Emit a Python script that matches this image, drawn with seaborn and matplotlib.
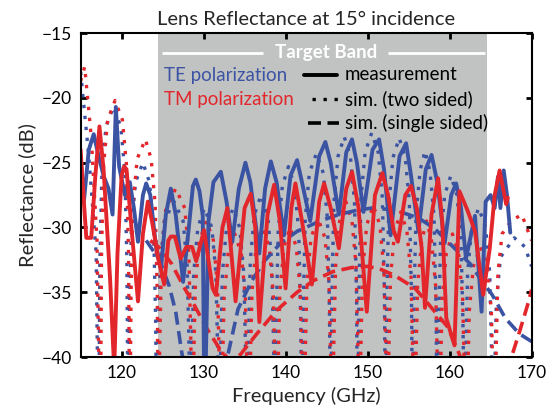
import matplotlib
matplotlib.use("Agg")
import matplotlib.pyplot as plt
import seaborn as sns

# --- values (frequency in GHz, reflectance in dB) ---

# TE measurement (blue solid)
te_meas_f = [115.0, 115.4, 116.0, 116.6, 117.2, 117.8, 118.4, 118.9, 119.3, 119.7,
             120.4, 121.0, 121.5, 122.0, 122.6, 123.0, 123.5, 124.2, 124.8, 125.4,
             126.0, 126.6, 127.5, 128.2, 128.7, 129.05, 129.5, 129.9, 130.05, 130.25,
             130.6, 131.2, 132.1, 132.8, 133.5, 134.3, 135.1, 135.7, 136.8, 137.5,
             138.2, 138.9, 139.8, 140.6, 141.4, 142.0, 143.0, 144.1, 144.85, 145.5,
             146.5, 147.4, 148.1, 148.7, 149.5, 150.6, 151.4, 152.0, 152.8, 153.9,
             154.7, 155.3, 156.2, 157.1, 157.8, 158.5, 159.4, 160.2, 160.8, 161.4,
             162.0, 163.1, 163.9, 164.4, 165.0, 165.5, 165.9, 166.2, 166.6, 167.0,
             167.4]
te_meas_db = [-24.5, -28.0, -24.0, -22.8, -24.5, -26.0, -27.0, -29.0, -20.7, -25.3,
              -27.5, -26.5, -28.5, -31.1, -27.5, -26.6, -27.5, -31.5, -33.2, -29.0,
              -27.0, -29.0, -34.2, -30.0, -26.8, -26.3, -27.2, -29.1, -41.0, -41.0,
              -29.5, -26.5, -25.7, -28.0, -31.1, -27.0, -25.0, -26.5, -32.0, -27.0,
              -24.9, -26.5, -30.6, -26.0, -24.8, -26.5, -29.5, -24.5, -23.4, -25.0,
              -29.0, -24.2, -23.2, -25.0, -28.8, -24.0, -23.2, -25.5, -30.6, -24.5,
              -23.5, -26.0, -30.3, -25.5, -24.4, -26.5, -31.2, -27.5, -26.6, -28.5,
              -32.4, -29.1, -36.5, -28.0, -27.5, -28.5, -26.1, -28.5, -25.6, -27.5,
              -30.4]

# TM measurement (red solid)
tm_meas_f = [115.0, 115.4, 115.7, 116.3, 116.8, 117.3, 117.8, 118.6, 119.1, 119.5,
             120.0, 120.3, 120.6, 121.2, 122.0, 122.6, 123.2, 123.7, 124.5, 125.2,
             125.7, 126.0, 126.5, 127.2, 127.9, 128.6, 129.1, 130.06, 131.1, 131.5,
             132.3, 132.9, 133.9, 135.0, 135.75, 136.3, 136.8, 137.8, 138.6, 139.3,
             140.0, 140.7, 141.2, 142.0, 143.2, 144.1, 144.7, 145.5, 146.5, 147.4,
             148.1, 148.9, 149.9, 150.9, 151.8, 152.5, 153.2, 153.7, 154.6, 155.3,
             156.0, 156.6, 157.0, 157.8, 158.6, 159.1, 159.6, 160.6, 161.2, 162.2,
             163.1, 164.1, 164.9, 165.5, 166.1, 166.9, 167.1]
tm_meas_db = [-24.0, -28.0, -30.8, -30.8, -26.0, -22.2, -25.5, -34.0, -41.0, -32.0,
              -26.0, -25.3, -25.5, -30.0, -35.7, -30.5, -28.0, -29.5, -32.5, -34.4,
              -31.0, -30.7, -30.7, -32.4, -31.5, -31.5, -32.6, -30.2, -34.7, -35.2,
              -30.0, -28.5, -35.7, -28.5, -27.4, -30.0, -37.3, -29.0, -26.7, -29.5,
              -34.7, -28.5, -26.6, -29.5, -34.4, -28.0, -26.6, -28.5, -31.6, -27.0,
              -25.7, -28.5, -36.5, -27.5, -25.8, -27.5, -30.3, -31.1, -27.5, -26.8,
              -28.5, -31.6, -36.2, -29.0, -26.2, -29.5, -37.0, -39.1, -27.2, -28.7,
              -30.3, -35.2, -31.6, -27.5, -25.6, -28.2, -27.7]

# TE simulation, two sided (blue dotted)
te_two_f = [115.0, 116.0, 116.9, 117.2,
            117.35, 117.6, 118.1, 119.0, 119.9, 120.4, 120.65, 120.8,
            120.95, 121.2, 121.7, 122.6, 123.4, 123.9, 124.15, 124.3,
            124.45, 124.7, 125.2, 126.4, 127.5, 128.0, 128.25, 128.4,
            128.55, 128.8, 129.3, 130.1, 131.0, 131.5, 131.75, 131.9,
            132.05, 132.3, 132.8, 133.6, 134.4, 134.9, 135.15, 135.3,
            135.45, 135.7, 136.2, 137.0, 137.8, 138.3, 138.55, 138.7,
            138.85, 139.1, 139.6, 140.35, 141.1, 141.6, 141.85, 142.0,
            142.15, 142.4, 142.9, 143.75, 144.6, 145.1, 145.35, 145.5,
            145.65, 145.9, 146.4, 147.15, 147.9, 148.4, 148.65, 148.8,
            148.95, 149.2, 149.7, 150.5, 151.3, 151.8, 152.05, 152.2,
            152.35, 152.6, 153.1, 153.85, 154.6, 155.1, 155.35, 155.5,
            155.65, 155.9, 156.4, 157.0, 157.6, 158.1, 158.35, 158.5,
            158.65, 158.9, 159.4, 160.15, 160.9, 161.4, 161.65, 161.8,
            161.95, 162.2, 162.7, 163.55, 164.4, 164.9, 165.15, 165.3,
            165.45, 165.7, 166.2, 167.9, 169.2, 170.0]
te_two_db = [-18.0, -24.5, -32.0, -48.0,
             -32.7, -25.7, -22.2, -20.7, -22.2, -25.7, -32.7, -48.0,
             -37.0, -30.0, -26.5, -25.0, -26.5, -30.0, -37.0, -48.0,
             -40.0, -33.0, -29.5, -28.0, -29.5, -33.0, -40.0, -48.0,
             -40.5, -33.5, -30.0, -28.5, -30.0, -33.5, -40.5, -48.0,
             -40.5, -33.5, -30.0, -28.5, -30.0, -33.5, -40.5, -48.0,
             -39.5, -32.5, -29.0, -27.5, -29.0, -32.5, -39.5, -48.0,
             -37.3, -30.3, -26.8, -25.3, -26.8, -30.3, -37.3, -48.0,
             -36.3, -29.3, -25.8, -24.3, -25.8, -29.3, -36.3, -48.0,
             -35.0, -28.0, -24.5, -23.0, -24.5, -28.0, -35.0, -48.0,
             -34.7, -27.7, -24.2, -22.7, -24.2, -27.7, -34.7, -48.0,
             -35.1, -28.1, -24.6, -23.1, -24.6, -28.1, -35.1, -48.0,
             -36.1, -29.1, -25.6, -24.1, -25.6, -29.1, -36.1, -48.0,
             -38.0, -31.0, -27.5, -26.0, -27.5, -31.0, -38.0, -48.0,
             -40.5, -33.5, -30.0, -28.5, -30.0, -33.5, -40.5, -48.0,
             -42.8, -35.8, -32.3, -30.8, -31.5, -33.0]

# TM simulation, two sided (red dotted)
tm_two_f = [115.0, 115.5, 116.3, 117.0, 117.4,
            117.55, 117.8, 118.3, 119.2, 120.1, 120.6, 120.85, 121.0,
            121.15, 121.4, 121.9, 122.9, 123.6, 124.1, 124.35, 124.5,
            124.65, 124.9, 125.4, 126.6, 127.7, 128.2, 128.45, 128.6,
            128.75, 129.0, 129.5, 130.35, 131.2, 131.7, 131.95, 132.1,
            132.25, 132.5, 133.0, 133.8, 134.6, 135.1, 135.35, 135.5,
            135.65, 135.9, 136.4, 137.2, 138.0, 138.5, 138.75, 138.9,
            139.05, 139.3, 139.8, 140.55, 141.3, 141.8, 142.05, 142.2,
            142.35, 142.6, 143.1, 143.95, 144.8, 145.3, 145.55, 145.7,
            145.85, 146.1, 146.6, 147.35, 148.1, 148.6, 148.85, 149.0,
            149.15, 149.4, 149.9, 150.7, 151.5, 152.0, 152.25, 152.4,
            152.55, 152.8, 153.3, 154.05, 154.8, 155.3, 155.55, 155.7,
            155.85, 156.1, 156.6, 157.2, 157.8, 158.3, 158.55, 158.7,
            158.85, 159.1, 159.6, 160.35, 161.1, 161.6, 161.85, 162.0,
            162.15, 162.4, 162.9, 163.75, 164.6, 165.1, 165.35, 165.5,
            165.65, 165.9, 166.4, 167.5, 168.8, 170.0]
tm_two_db = [-18.7, -17.6, -23.0, -31.0, -48.0,
             -32.2, -25.2, -21.7, -20.2, -21.7, -25.2, -32.2, -48.0,
             -35.2, -28.2, -24.7, -23.2, -24.7, -28.2, -35.2, -48.0,
             -39.0, -32.0, -28.5, -27.0, -28.5, -32.0, -39.0, -48.0,
             -41.5, -34.5, -31.0, -29.5, -31.0, -34.5, -41.5, -48.0,
             -42.5, -35.5, -32.0, -30.5, -32.0, -35.5, -42.5, -48.0,
             -42.0, -35.0, -31.5, -30.0, -31.5, -35.0, -42.0, -48.0,
             -42.0, -35.0, -31.5, -30.0, -31.5, -35.0, -42.0, -48.0,
             -41.3, -34.3, -30.8, -29.3, -30.8, -34.3, -41.3, -48.0,
             -40.0, -33.0, -29.5, -28.0, -29.5, -33.0, -40.0, -48.0,
             -40.3, -33.3, -29.8, -28.3, -29.8, -33.3, -40.3, -48.0,
             -40.8, -33.8, -30.3, -28.8, -30.3, -33.8, -40.8, -48.0,
             -41.5, -34.5, -31.0, -29.5, -31.0, -34.5, -41.5, -48.0,
             -42.5, -35.5, -32.0, -30.5, -32.0, -35.5, -42.5, -48.0,
             -43.5, -36.5, -33.0, -31.5, -33.0, -36.5, -43.5, -48.0,
             -40.5, -33.5, -30.5, -29.5, -29.0, -31.0]

# TE simulation, single sided (blue dashed)
te_one_f = [123.0, 124.6, 125.8, 126.6, 127.3, 128.0, 130.2, 132.5, 132.9, 134.2,
            135.8, 137.4, 139.4, 141.4, 144.2, 146.5, 148.5, 150.5, 152.5, 154.5,
            156.3, 158.2, 160.6, 162.5, 163.8, 165.2, 166.8, 168.5, 170.0]
te_one_db = [-31.0, -32.5, -34.5, -36.5, -39.5, -42.0, -46.0, -42.0, -40.0, -36.3,
             -34.2, -32.6, -31.2, -30.3, -29.5, -29.0, -28.7, -28.5, -28.6, -28.9,
             -29.3, -30.1, -31.6, -32.8, -34.0, -35.2, -37.0, -38.2, -38.8]

# TM simulation, single sided (red dashed)
tm_one_f = [123.5, 124.7, 126.1, 127.6, 128.7, 130.4, 132.0, 133.2, 134.5, 136.5,
            138.9, 141.4, 143.4, 145.8, 148.0, 150.0, 151.5, 153.3, 155.8, 157.8,
            159.8, 161.2, 162.5, 165.0, 167.0, 167.7, 168.6, 169.6, 170.0]
tm_one_db = [-31.0, -31.6, -32.8, -34.6, -35.8, -37.8, -39.4, -40.3, -39.8, -38.2,
             -36.4, -35.0, -34.1, -33.4, -33.1, -33.0, -33.2, -33.7, -34.7, -36.2,
             -37.7, -39.8, -43.0, -47.0, -42.0, -39.7, -37.9, -35.8, -34.8]

band = (124.5, 164.6)

blue = '#3b53a3'
red = '#e2262b'
gray = '#c1c2c2'

sns.set_style("ticks")
plt.rcParams['font.family'] = ['Lato', 'DejaVu Sans']

fig = plt.figure(figsize=(5.52, 4.09), dpi=100)
ax = fig.add_axes([0.146, 0.127, 0.817, 0.792])

# target band
ax.axvspan(band[0], band[1], color=gray, lw=0, zorder=0)

dot = (0, (1, 2.3))
dash = (0, (3.6, 1.8))

# simulations first, measurements on top
sns.lineplot(x=te_two_f, y=te_two_db, color=blue, lw=2.4, linestyle=dot,
             sort=False, estimator=None, ax=ax)
sns.lineplot(x=tm_two_f, y=tm_two_db, color=red, lw=2.4, linestyle=dot,
             sort=False, estimator=None, ax=ax)
sns.lineplot(x=te_one_f, y=te_one_db, color=blue, lw=2.6, linestyle=dash,
             sort=False, estimator=None, ax=ax)
sns.lineplot(x=tm_one_f, y=tm_one_db, color=red, lw=2.6, linestyle=dash,
             sort=False, estimator=None, ax=ax)
sns.lineplot(x=te_meas_f, y=te_meas_db, color=blue, lw=2.8,
             sort=False, estimator=None, ax=ax)
sns.lineplot(x=tm_meas_f, y=tm_meas_db, color=red, lw=2.8,
             sort=False, estimator=None, ax=ax)

ax.set_xlim(115, 170)
ax.set_ylim(-40, -15)
ax.set_xticks(range(120, 171, 10))
ax.set_yticks(range(-40, -14, 5))
ax.tick_params(direction='in', length=4, width=2, top=True, right=True,
               labelsize=12.5, colors='black', pad=6)
for s in ax.spines.values():
    s.set_linewidth(1.5)
    s.set_color('black')

ax.set_xlabel('Frequency (GHz)', fontsize=14.5, labelpad=4)
ax.set_ylabel('Reflectance (dB)', fontsize=14.5, labelpad=4)
ax.set_title('Lens Reflectance at 15° incidence', fontsize=14.5, pad=6)

# "Target Band" banner
ax.plot([124.9, 137.3], [-16.5, -16.5], color='white', lw=2, solid_capstyle='butt')
ax.plot([152.5, 164.3], [-16.5, -16.5], color='white', lw=2, solid_capstyle='butt')
ax.text(145.0, -16.5, 'Target Band', color='white', fontsize=13.5, fontweight='bold',
        ha='center', va='center')

# hand-built legend
ax.text(125.2, -18.3, 'TE polarization', color=blue, fontsize=13.5, va='center')
ax.text(125.2, -20.1, 'TM polarization', color=red, fontsize=13.5, va='center')
ax.plot([142.3, 146.3], [-18.2, -18.2], color='black', lw=2.8)
ax.plot([143.2, 146.8], [-20.1, -20.1], color='black', lw=2.4, linestyle=dot)
ax.plot([142.7, 146.5], [-21.9, -21.9], color='black', lw=2.6, linestyle=dash)
ax.text(147.2, -18.2, 'measurement', color='black', fontsize=13.5, va='center')
ax.text(147.2, -20.1, 'sim. (two sided)', color='black', fontsize=13.5, va='center')
ax.text(147.2, -21.9, 'sim. (single sided)', color='black', fontsize=13.5, va='center')

fig.savefig('out.png', dpi=100)
